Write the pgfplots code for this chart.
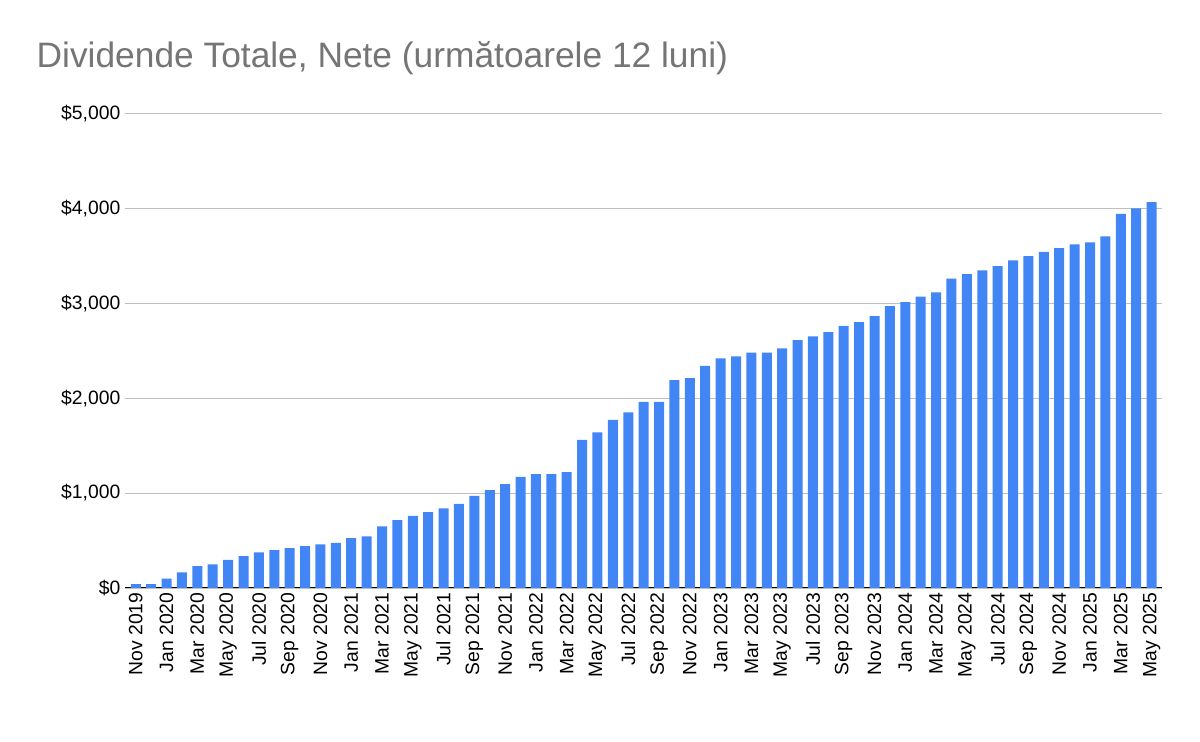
\documentclass[border=0pt]{standalone}
\usepackage{pgfplots}
\pgfplotsset{compat=1.18}
\usepackage{fontspec}
\setmainfont{Liberation Sans}
\definecolor{barblue}{HTML}{4285F4}
\definecolor{titlegray}{HTML}{757575}
\begin{document}
\begin{tikzpicture}[x=1pt,y=1pt]
\path (0,0) rectangle (900,556.5);
\node[anchor=west,text=titlegray,font=\fontsize{26.5}{30}\selectfont] at (24,513) {Dividende Totale, Nete (următoarele 12 luni)};
\begin{axis}[at={(93.75pt,115.5pt)},anchor=south west,scale only axis,
 width=778pt,height=356pt,
 ybar, bar width=7.5pt,
 xmin=-0.7,xmax=66.7,ymin=0,ymax=5000,
 axis line style={draw=none}, axis x line*=bottom,
 ytick={0,1000,...,5000},
 yticklabels={\$0,\$1{,}000,\$2{,}000,\$3{,}000,\$4{,}000,\$5{,}000},
 ymajorgrids, grid style={gray!50,line width=0.6pt},
 major tick length=0pt,
 xtick={0,2,...,66},
 xticklabels={Nov 2019,Jan 2020,Mar 2020,May 2020,Jul 2020,Sep 2020,Nov 2020,Jan 2021,Mar 2021,May 2021,Jul 2021,Sep 2021,Nov 2021,Jan 2022,Mar 2022,May 2022,Jul 2022,Sep 2022,Nov 2022,Jan 2023,Mar 2023,May 2023,Jul 2023,Sep 2023,Nov 2023,Jan 2024,Mar 2024,May 2024,Jul 2024,Sep 2024,Nov 2024,Jan 2025,Mar 2025,May 2025},
 xticklabel style={rotate=90,anchor=east,font=\fontsize{14.5}{16}\selectfont},
 yticklabel style={font=\fontsize{14.5}{16}\selectfont},
]
\draw[black,line width=0.8pt] (axis cs:-0.7,0) -- (axis cs:66.7,0);
\addplot[fill=barblue,draw=none] coordinates {
(0,40)(1,40)(2,100)(3,165)(4,230)(5,250)(6,295)(7,335)(8,375)(9,400)
(10,420)(11,440)(12,460)(13,475)(14,525)(15,545)(16,650)(17,715)(18,760)(19,800)
(20,840)(21,885)(22,970)(23,1030)(24,1095)(25,1170)(26,1200)(27,1200)(28,1220)(29,1560)
(30,1640)(31,1770)(32,1850)(33,1960)(34,1960)(35,2190)(36,2210)(37,2340)(38,2420)(39,2440)
(40,2480)(41,2480)(42,2525)(43,2610)(44,2650)(45,2695)(46,2760)(47,2800)(48,2865)(49,2970)
(50,3010)(51,3070)(52,3115)(53,3260)(54,3305)(55,3345)(56,3390)(57,3450)(58,3495)(59,3540)
(60,3580)(61,3620)(62,3640)(63,3705)(64,3940)(65,4000)(66,4065)};
\end{axis}
\end{tikzpicture}
\end{document}
